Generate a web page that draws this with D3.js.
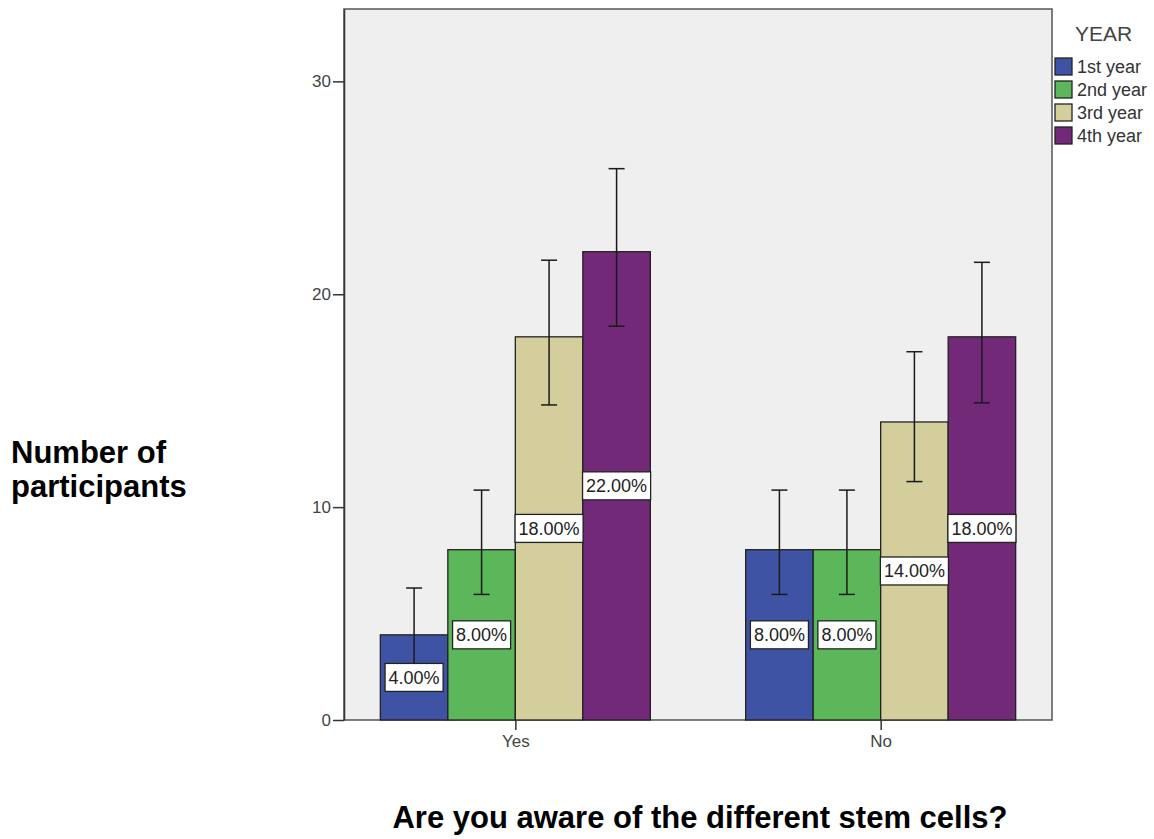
<!DOCTYPE html>
<html><head><meta charset="utf-8">
<script src="https://cdn.jsdelivr.net/npm/d3@7"></script>
<style>body{margin:0;background:#fff;} svg{display:block;}</style>
</head><body>
<svg id="c" width="1154" height="839"></svg>
<script>
const categories = ["Yes", "No"];
const years = ["1st year", "2nd year", "3rd year", "4th year"];
const colors = ["#3f53a5", "#5cb75a", "#d3ce9b", "#722a78"];
const valuesYes = [4, 8, 18, 22];
const valuesNo = [8, 8, 14, 18];
const errLowYes = [2.6, 5.9, 14.8, 18.5];
const errHighYes = [6.2, 10.8, 21.6, 25.9];
const errLowNo = [5.9, 5.9, 11.2, 14.9];
const errHighNo = [10.8, 10.8, 17.3, 21.5];
const labelsYes = ["4.00%", "8.00%", "18.00%", "22.00%"];
const labelsNo = ["8.00%", "8.00%", "14.00%", "18.00%"];
const yTicks = [0, 10, 20, 30];

const data = categories.map((c, i) => ({
  cat: c,
  bars: years.map((y, j) => ({
    year: y, color: colors[j],
    v: i === 0 ? valuesYes[j] : valuesNo[j],
    lo: i === 0 ? errLowYes[j] : errLowNo[j],
    hi: i === 0 ? errHighYes[j] : errHighNo[j],
    label: i === 0 ? labelsYes[j] : labelsNo[j]
  }))
}));

const FONT = "Liberation Sans, Arial, Helvetica, sans-serif";
const svg = d3.select("#c");
const L = 344, R = 1052, T = 9, B = 720;
const y = d3.scaleLinear().domain([0, 33.4]).range([B, T]);
const x0 = d3.scalePoint().domain(categories).range([L, R]).padding(0.469);
const groupW = 270;
const x1 = d3.scaleBand().domain(years).range([-groupW / 2, groupW / 2]).padding(0);

// plot background
svg.append("rect").attr("x", L).attr("y", T).attr("width", R - L).attr("height", B - T)
  .attr("fill", "#efefef").attr("stroke", "#555").attr("stroke-width", 1.5);

// bars
const g = svg.append("g");
const groups = g.selectAll("g.grp").data(data).enter().append("g")
  .attr("transform", d => `translate(${x0(d.cat)},0)`);
groups.selectAll("rect.bar").data(d => d.bars).enter().append("rect")
  .attr("x", d => x1(d.year)).attr("width", x1.bandwidth())
  .attr("y", d => y(d.v)).attr("height", d => y(0) - y(d.v))
  .attr("fill", d => d.color).attr("stroke", "#222").attr("stroke-width", 1.3);

// error bars
const capW = 16;
groups.selectAll("g.err").data(d => d.bars).enter().append("g").each(function(d) {
  const cx = x1(d.year) + x1.bandwidth() / 2;
  const s = d3.select(this);
  s.append("line").attr("x1", cx).attr("x2", cx).attr("y1", y(d.hi)).attr("y2", y(d.lo));
  s.append("line").attr("x1", cx - capW / 2).attr("x2", cx + capW / 2).attr("y1", y(d.hi)).attr("y2", y(d.hi));
  s.append("line").attr("x1", cx - capW / 2).attr("x2", cx + capW / 2).attr("y1", y(d.lo)).attr("y2", y(d.lo));
  s.selectAll("line").attr("stroke", "#1a1a1a").attr("stroke-width", 1.5);
});

// labels
groups.selectAll("g.lab").data(d => d.bars).enter().append("g").each(function(d) {
  const cx = x1(d.year) + x1.bandwidth() / 2;
  const cy = y(d.v / 2);
  const s = d3.select(this);
  const t = s.append("text").attr("x", cx).attr("y", cy + 6.5).attr("text-anchor", "middle")
    .attr("font-family", FONT).attr("font-size", 18).attr("fill", "#222").text(d.label);
  const w = t.node().getComputedTextLength() + 7;
  s.insert("rect", "text").attr("x", cx - w / 2).attr("y", cy - 14).attr("width", w).attr("height", 28)
    .attr("fill", "#fff").attr("stroke", "#222").attr("stroke-width", 1.3);
});

// y axis
const yAxis = d3.axisLeft(y).tickValues(yTicks).tickSize(11).tickSizeOuter(0).tickPadding(2);
const ya = svg.append("g").attr("transform", `translate(${L},0)`).call(yAxis);
ya.select(".domain").attr("stroke", "#333").attr("stroke-width", 1.5);
ya.selectAll(".tick line").attr("stroke", "#333").attr("stroke-width", 1.5);
ya.selectAll(".tick text").attr("font-family", FONT).attr("font-size", 17).attr("fill", "#444");

// x axis
const xAxis = d3.axisBottom(x0).tickSize(10).tickSizeOuter(0).tickPadding(5);
const xa = svg.append("g").attr("transform", `translate(0,${B})`).call(xAxis);
xa.select(".domain").remove();
xa.selectAll(".tick line").attr("stroke", "#333").attr("stroke-width", 1.5);
xa.selectAll(".tick text").attr("font-family", FONT).attr("font-size", 17).attr("fill", "#444");

// legend
svg.append("text").attr("x", 1075).attr("y", 41).attr("font-family", FONT)
  .attr("font-size", 21).attr("fill", "#444").text("YEAR");
const lg = svg.append("g");
years.forEach((yr, i) => {
  const yy = 58 + i * 23;
  lg.append("rect").attr("x", 1055).attr("y", yy).attr("width", 17).attr("height", 17)
    .attr("fill", colors[i]).attr("stroke", "#222").attr("stroke-width", 1.3);
  lg.append("text").attr("x", 1077).attr("y", yy + 14.5).attr("font-family", FONT)
    .attr("font-size", 18).attr("fill", "#333").text(yr);
});

// titles
const yt = svg.append("text").attr("font-family", FONT).attr("font-weight", "bold")
  .attr("font-size", 31).attr("fill", "#000");
yt.append("tspan").attr("x", 11).attr("y", 463).text("Number of");
yt.append("tspan").attr("x", 11).attr("y", 497).text("participants");

svg.append("text").attr("x", 700).attr("y", 828).attr("text-anchor", "middle")
  .attr("font-family", FONT).attr("font-weight", "bold")
  .attr("font-size", 31).attr("fill", "#000").text("Are you aware of the different stem cells?");
</script>
</body></html>
